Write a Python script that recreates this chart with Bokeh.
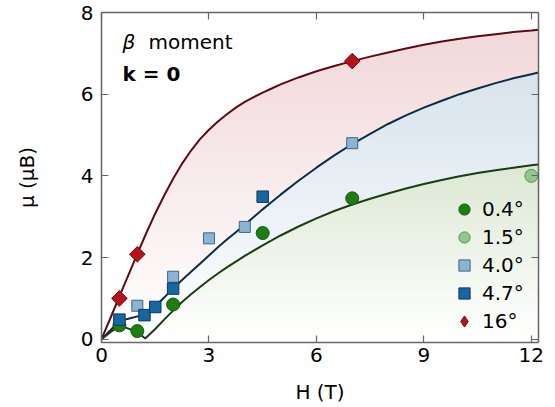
import numpy as np
from bokeh.plotting import figure
from bokeh.models import (LinearAxis, FixedTicker, Range1d, Label, Legend, LegendItem,
                          ColumnDataSource, Whisker, TeeHead)
from bokeh.embed import file_html
from bokeh.resources import INLINE

# ---------------- data ----------------
# fitted curves: field H (T) and moment (mu_B)
curve_H = [0, 0.25, 0.5, 0.75, 1.0, 1.22, 1.5, 1.75, 2.0, 2.25, 2.5, 2.75, 3.0,
           3.25, 3.5, 3.75, 4.0, 4.25, 4.5, 4.75, 5.0, 5.5, 6.0, 6.5, 7.0, 7.5,
           8.0, 8.5, 9.0, 9.5, 10.0, 10.5, 11.0, 11.5, 12.0, 12.2]
curve_16 = [0, 0.52, 1.05, 1.57, 2.09, 2.54, 3.08, 3.52, 3.93, 4.3, 4.62, 4.9,
            5.13, 5.33, 5.51, 5.67, 5.81, 5.93, 6.04, 6.14, 6.24, 6.41, 6.56, 6.69,
            6.81, 6.92, 7.02, 7.12, 7.21, 7.29, 7.36, 7.42, 7.47, 7.52, 7.56, 7.58]
curve_47 = [0, 0.22, 0.45, 0.5, 0.56, 0.6, 0.8, 1.02, 1.25, 1.45, 1.65, 1.85,
            2.05, 2.25, 2.44, 2.62, 2.8, 2.99, 3.18, 3.36, 3.54, 3.88, 4.2, 4.5,
            4.78, 5.03, 5.27, 5.48, 5.67, 5.84, 6.0, 6.14, 6.27, 6.39, 6.49, 6.53]
curve_04 = [0, 0.17, 0.34, 0.26, 0.18, 0.02, 0.25, 0.48, 0.7, 0.91, 1.1, 1.28,
            1.45, 1.61, 1.76, 1.9, 2.04, 2.17, 2.3, 2.42, 2.54, 2.76, 2.96, 3.14,
            3.3, 3.44, 3.57, 3.69, 3.8, 3.9, 3.99, 4.07, 4.14, 4.2, 4.26, 4.28]

# measured points
H_04 = [0.5, 1.0, 2.0, 4.5, 7.0]
mu_04 = [0.34, 0.2, 0.85, 2.6, 3.45]

H_15 = [12.0]
mu_15 = [4.0]

H_40 = [1.0, 2.0, 3.0, 4.0, 7.0]
mu_40 = [0.82, 1.53, 2.47, 2.75, 4.8]
err_40 = [0.0, 0.25, 0.15, 0.1, 0.0]

H_47 = [0.5, 1.2, 1.5, 2.0, 4.5]
mu_47 = [0.48, 0.59, 0.79, 1.24, 3.49]

H_16 = [0.5, 1.0, 7.0]
mu_16 = [1.0, 2.08, 6.81]
err_16 = [0.21, 0.0, 0.0]

legend_labels = ["0.4°", "1.5°", "4.0°", "4.7°", "16°"]
x_ticks = [0, 3, 6, 9, 12]
y_ticks = [0, 2, 4, 6, 8]
x_title = "H (T)"
y_title = "μ (μB)"

# ---------------- figure ----------------
FONT = "DejaVu Sans"
XMIN, XMAX, YMIN, YMAX = 0, 12.2, -0.08, 8.0

p = figure(width=555, height=407, output_backend="svg", toolbar_location=None,
           x_range=Range1d(XMIN, XMAX), y_range=Range1d(YMIN, YMAX),
           min_border_left=101, min_border_right=17, min_border_top=12,
           min_border_bottom=65)
p.grid.visible = False
p.outline_line_color = None
p.background_fill_color = "white"
p.border_fill_color = "white"

AX_COL = "#666666"


def style_axis(ax, ticks, show_labels):
    ax.ticker = FixedTicker(ticks=ticks)
    ax.axis_line_color = AX_COL
    ax.axis_line_width = 1.5
    ax.major_tick_line_color = AX_COL
    ax.major_tick_line_width = 1.2
    ax.major_tick_in = 7
    ax.major_tick_out = 0
    ax.minor_tick_line_color = None
    if show_labels:
        ax.major_label_text_font = FONT
        ax.major_label_text_font_size = "20px"
        ax.major_label_text_color = "black"
        ax.axis_label_text_font = FONT
        ax.axis_label_text_font_size = "20px"
        ax.axis_label_text_font_style = "normal"
        ax.axis_label_text_color = "black"
    else:
        ax.major_label_text_font_size = "1px"
        ax.major_label_text_color = None
        ax.major_label_standoff = 0


xa = p.xaxis[0]
style_axis(xa, x_ticks, True)
xa.major_label_standoff = 5
xa.axis_label = x_title
xa.axis_label_standoff = 15

ya = p.yaxis[0]
style_axis(ya, y_ticks, True)
ya.major_label_standoff = 8
ya.axis_label = y_title
ya.axis_label_standoff = 39

top_ax = LinearAxis()
style_axis(top_ax, x_ticks, False)
p.add_layout(top_ax, "above")
right_ax = LinearAxis()
style_axis(right_ax, y_ticks, False)
p.add_layout(right_ax, "right")

# ---------------- shaded bands ----------------
zeros = [0.0] * len(curve_H)
p.varea(x=curve_H, y1=curve_47, y2=curve_16, fill_color="#f1d6d8")
p.varea(x=curve_H, y1=curve_04, y2=curve_47, fill_color="#cfdde9")
p.varea(x=curve_H, y1=zeros, y2=curve_04, fill_color="#bdd4ae")

# vertical white fade (gradient) overlay
n = 256
ys = np.linspace(YMIN, YMAX, n)
alpha = np.clip(1 - ys / YMAX, 0, 1)
img = np.zeros((n, 1), dtype=np.uint32)
view = img.view(dtype=np.uint8).reshape((n, 1, 4))
view[:, 0, 0:3] = 255
view[:, 0, 3] = (alpha * 255).astype(np.uint8)
p.image_rgba(image=[img], x=XMIN, y=YMIN, dw=XMAX - XMIN, dh=YMAX - YMIN)

# ---------------- curves ----------------
p.line(curve_H, curve_16, line_color="#5b0b12", line_width=2)
p.line(curve_H, curve_47, line_color="#0e2c44", line_width=2)
p.line(curve_H, curve_04, line_color="#1c3c14", line_width=2)

# ---------------- error bars ----------------
def add_err(H, mu, err, color):
    hh = [h for h, e in zip(H, err) if e > 0]
    lo = [m - e for m, e in zip(mu, err) if e > 0]
    up = [m + e for m, e in zip(mu, err) if e > 0]
    src = ColumnDataSource(dict(x=hh, lo=lo, up=up))
    w = Whisker(source=src, base="x", lower="lo", upper="up", dimension="height",
                line_color=color, line_width=1.3,
                upper_head=TeeHead(size=9, line_color=color, line_width=1.3),
                lower_head=TeeHead(size=9, line_color=color, line_width=1.3))
    p.add_layout(w)


add_err(H_40, mu_40, err_40, "#3c617c")
add_err(H_16, mu_16, err_16, "#7d1018")

# ---------------- markers ----------------
r04 = p.scatter(H_04, mu_04, marker="circle", size=13, fill_color="#1e7d12",
                line_color="#145a0c", line_width=1)
r15 = p.scatter(H_15, mu_15, marker="circle", size=13, fill_color="#93c68c",
                line_color="#5a8f54", line_width=1)
r40 = p.scatter(H_40, mu_40, marker="square", size=11, fill_color="#8db5d3",
                line_color="#3b6685", line_width=1)
r47 = p.scatter(H_47, mu_47, marker="square", size=11.5, fill_color="#16679f",
                line_color="#0c3b5e", line_width=1)
r16 = p.scatter(H_16, mu_16, marker="square", angle=np.pi / 4, size=11,
                fill_color="#b5121b", line_color="#6e0a0e", line_width=1)
# legend swatch for the diamonds (legend glyphs are never rotated); hidden in plot
r16_key = p.scatter(H_16, mu_16, marker="diamond", size=14, visible=False,
                    fill_color="#b5121b", line_color="#6e0a0e", line_width=1)

# ---------------- legend ----------------
legend = Legend(items=[LegendItem(label=lab, renderers=[r]) for lab, r in
                       zip(legend_labels, [r04, r15, r40, r47, r16_key])],
                location=(349, 7), glyph_width=28, glyph_height=28, spacing=0,
                padding=0, margin=0, label_standoff=4,
                border_line_color=None, background_fill_alpha=0,
                inactive_fill_alpha=0,
                label_text_font=FONT, label_text_font_size="20px",
                label_text_color="black")
p.add_layout(legend)

# ---------------- in-plot annotation ----------------
def lab(x, y, text, style="normal"):
    p.add_layout(Label(x=x, y=y, x_units="screen", y_units="screen", text=text,
                       text_font=FONT, text_font_size="20px", text_font_style=style,
                       text_color="black", text_align="left",
                       text_baseline="alphabetic"))


lab(21, 301, "β", style="italic")
lab(47, 301, "moment")
lab(21, 269, "k = 0", style="bold")

open("out.html", "w").write(file_html(p, INLINE))
